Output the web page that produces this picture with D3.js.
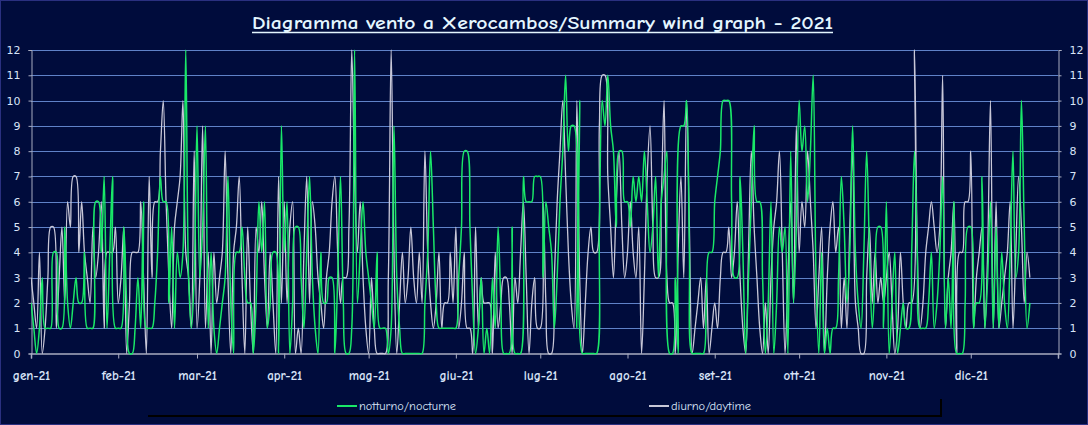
<!DOCTYPE html>
<html>
<head>
<meta charset="utf-8">
<script src="https://cdn.jsdelivr.net/npm/d3@7"></script>
<style>
  html, body { margin: 0; padding: 0; background: #000c3c; }
  svg { display: block; }
</style>
</head>
<body>
<svg id="chart" width="1088" height="425"></svg>
<script>
// ---------- DATA ----------
const titleText = "Diagramma vento a Xerocambos/Summary wind graph - 2021";
const startDate = "2021-01-01";
const endDate = "2022-01-01";
const monthLabels = ["gen-21","feb-21","mar-21","apr-21","mag-21","giu-21","lug-21","ago-21","set-21","ott-21","nov-21","dic-21"];
const yTicks = [0,1,2,3,4,5,6,7,8,9,10,11,12];
const seriesNames = ["notturno/nocturne", "diurno/daytime"];

// night wind (Beaufort), one value per day from 1 Jan 2021
const nocturne = [
 2,1,0,1,3,1,1,1,4,4, 1,1,5,2,1,2,3,2,2,4, 1,1,1,6,6,4,7,1,4,7,
 1,1,1,5,2,0,0,1,3,1, 6,1,1,1,2,4,7,6,6,2, 5,1,4,3,4,12,3,1,3,9,
 3,5,9,1,4,1,0,1,2,3, 7,2,0,4,4,5,3,2,2,0, 2,6,4,6,1,2,4,4,0,9,
 4,6,0,2,5,5,3,1,4,7, 3,1,0,4,2,2,3,3,0,3, 7,2,0,0,1,12,2,4,6,4,
 3,2,1,4,1,1,1,0,1,9, 3,1,0,0,0,0,0,0,0,0, 2,4,8,5,2,1,1,1,1,1,
 1,1,3,5,8,8,5,2,0,1, 3,0,1,0,3,1,5,2,0,0, 0,5,0,0,0,7,6,6,6,7,
 7,7,3,6,5,4,1,3,6,8, 11,8,9,9,1,10,0,0,0,0, 0,0,5,10,9,11,9,8,5,8,
 8,6,6,5,7,6,7,6,8,6, 4,5,7,3,6,7,8,0,0,3, 0,9,9,10,4,0,0,0,0,0,
 2,4,4,6,7,8,10,10,10,6, 3,3,7,4,0,3,6,9,6,6, 3,0,2,6,0,2,5,4,5,0,
 8,2,5,10,8,9,6,8,11,3, 0,4,0,1,0,1,1,3,7,5, 2,4,9,4,2,1,4,8,4,1,
 3,5,5,1,6,0,2,4,0,1, 2,1,1,4,8,4,1,1,1,2, 4,1,2,4,7,1,3,1,6,0,
 0,0,2,5,5,1,2,2,7,1, 3,6,1,5,1,4,2,1,4,8, 3,4,10,5,1,2
];

// day wind (Beaufort), one value per day from 1 Jan 2021
const daytime = [
 3,2,1,4,0,1,3,5,5,1, 3,5,2,6,5,7,7,4,6,4, 3,2,5,3,4,6,1,4,4,4,
 5,2,3,5,0,2,4,4,4,6, 3,0,7,3,6,6,8,10,6,3, 1,5,6,7,10,4,3,1,8,1,
 3,9,1,4,0,4,2,3,4,8, 3,0,4,5,7,3,0,5,2,0, 5,4,6,3,1,4,2,0,7,2,
 6,2,5,6,0,1,0,4,7,2, 6,5,3,2,1,3,4,6,7,4, 2,3,3,5,12,7,4,6,3,1,
 0,3,1,0,0,0,0,3,12,4, 0,2,4,2,3,5,3,2,4,2, 8,4,2,1,2,4,1,2,2,4,
 2,5,1,2,4,1,1,0,5,1, 3,2,2,2,0,4,1,2,3,3, 2,0,3,2,4,6,3,0,2,3,
 1,1,6,2,0,0,3,6,8,10, 7,4,2,1,10,3,0,2,4,5, 4,4,9,11,11,7,5,3,6,8,
 5,3,4,6,4,3,5,0,3,7, 9,5,3,3,6,10,3,2,2,0, 4,7,3,10,5,0,1,2,3,1,
 3,0,1,2,1,3,4,4,5,3, 4,6,3,1,0,4,8,5,3,1, 0,2,0,3,5,6,8,4,0,3,
 6,2,9,4,6,5,8,6,4,1, 3,5,0,3,5,6,4,5,1,3, 1,5,8,2,1,0,0,3,5,2,
 4,2,3,2,3,4,2,0,1,4, 2,1,2,2,12,4,1,2,4,5, 6,5,4,5,11,1,3,4,6,0,
 4,4,6,6,8,1,3,4,5,1, 4,10,1,6,1,2,3,4,6,1, 4,7,5,2,4,3
];

// ---------- CHART ----------
const W = 1088, H = 425;
const plot = { left: 31, right: 1058, top: 50, bottom: 353.5 };
const colors = { bg: "#000c3c", grid: "#5f82c8", axis: "#a8acc0", text: "#d8e4f8",
                 night: "#19e868", day: "#c8c8d8" };
const comic = "'Comic Sans MS', 'Comic Neue', 'DejaVu Sans', sans-serif";

const svg = d3.select("#chart");
svg.append("rect").attr("x", 0.5).attr("y", 0.5).attr("width", W - 1).attr("height", H - 1)
  .attr("fill", colors.bg).attr("stroke", "#2a3080").attr("stroke-width", 1);

const parse = d3.timeParse("%Y-%m-%d");
const d0 = parse(startDate), d1 = parse(endDate);
const x = d3.scaleTime().domain([d0, d1]).range([plot.left, plot.right]);
const y = d3.scaleLinear().domain([0, 12]).range([plot.bottom, plot.top]);
const dateOf = i => d3.timeDay.offset(d0, i);

// gridlines
svg.append("g").selectAll("line").data(yTicks.filter(t => t > 0)).join("line")
  .attr("x1", plot.left).attr("x2", plot.right)
  .attr("y1", d => Math.round(y(d)) + 0.5).attr("y2", d => Math.round(y(d)) + 0.5)
  .attr("stroke", colors.grid).attr("stroke-width", 1);

// left axis
const yLeft = svg.append("g").attr("transform", `translate(${plot.left + 0.5},0)`)
  .call(d3.axisLeft(y).tickValues(yTicks).tickSize(3).tickPadding(8).tickFormat(d3.format("d")));
// right axis
const yRight = svg.append("g").attr("transform", `translate(${plot.right + 0.5},0)`)
  .call(d3.axisRight(y).tickValues(yTicks).tickSize(3).tickPadding(8).tickFormat(d3.format("d")));
[yLeft, yRight].forEach(g => {
  g.select(".domain").attr("stroke", colors.axis);
  g.selectAll(".tick line").attr("stroke", colors.axis);
  g.selectAll(".tick text").attr("fill", colors.text)
    .style("font-family", "'DejaVu Sans', Tahoma, sans-serif").style("font-size", "11px");
});

// x axis
const months = d3.timeMonth.range(d0, d1);
const xAxis = svg.append("g").attr("transform", `translate(0,${plot.bottom})`)
  .call(d3.axisBottom(x).tickValues(months.concat([d1])).tickSize(5).tickPadding(10)
    .tickFormat((d, i) => i < monthLabels.length ? monthLabels[i] : ""));
xAxis.select(".domain").attr("stroke", colors.axis).attr("stroke-width", 1.5);
xAxis.selectAll(".tick line").attr("stroke", colors.axis);
xAxis.selectAll(".tick text").attr("fill", colors.text)
  .style("font-family", comic).style("font-size", "13px").style("font-weight", "bold")
  .attr("dy", "0.85em");

// lines
const line = d3.line()
  .x((d, i) => x(dateOf(i)))
  .y(d => y(d))
  .curve(d3.curveCatmullRom.alpha(0.5));

svg.append("clipPath").attr("id", "clip").append("rect")
  .attr("x", plot.left).attr("y", plot.top - 3).attr("width", plot.right - plot.left).attr("height", plot.bottom - plot.top + 5);

svg.append("path").datum(daytime).attr("d", line)
  .attr("fill", "none").attr("stroke", colors.day).attr("stroke-width", 1.3).attr("clip-path", "url(#clip)");
svg.append("path").datum(nocturne).attr("d", line)
  .attr("fill", "none").attr("stroke", colors.night).attr("stroke-width", 1.5).attr("clip-path", "url(#clip)");

// title
svg.append("text").attr("x", 252).attr("y", 29).text(titleText)
  .attr("fill", "#e4f6ff").attr("textLength", 581).attr("lengthAdjust", "spacingAndGlyphs")
  .style("font-family", comic).style("font-size", "18px").style("font-weight", "bold");
svg.append("line").attr("x1", 252).attr("x2", 833).attr("y1", 32.5).attr("y2", 32.5)
  .attr("stroke", "#e4f6ff").attr("stroke-width", 1.5);

// legend shadow
svg.append("line").attr("x1", 148).attr("x2", 941).attr("y1", 416).attr("y2", 416)
  .attr("stroke", "#000000").attr("stroke-width", 2);
svg.append("line").attr("x1", 941).attr("x2", 941).attr("y1", 399).attr("y2", 417)
  .attr("stroke", "#000000").attr("stroke-width", 2);

const legendItems = [
  { name: seriesNames[0], color: colors.night, x: 337, w: 97 },
  { name: seriesNames[1], color: colors.day, x: 649, w: 80 }
];
const lg = svg.append("g").selectAll("g").data(legendItems).join("g")
  .attr("transform", d => `translate(${d.x},406)`);
lg.append("line").attr("x1", 0).attr("x2", 20).attr("y1", 0).attr("y2", 0)
  .attr("stroke", d => d.color).attr("stroke-width", 2);
lg.append("text").attr("x", 22).attr("y", 4).text(d => d.name)
  .attr("fill", colors.text).attr("textLength", d => d.w).attr("lengthAdjust", "spacingAndGlyphs")
  .style("font-family", comic).style("font-size", "12px");
</script>
</body>
</html>
